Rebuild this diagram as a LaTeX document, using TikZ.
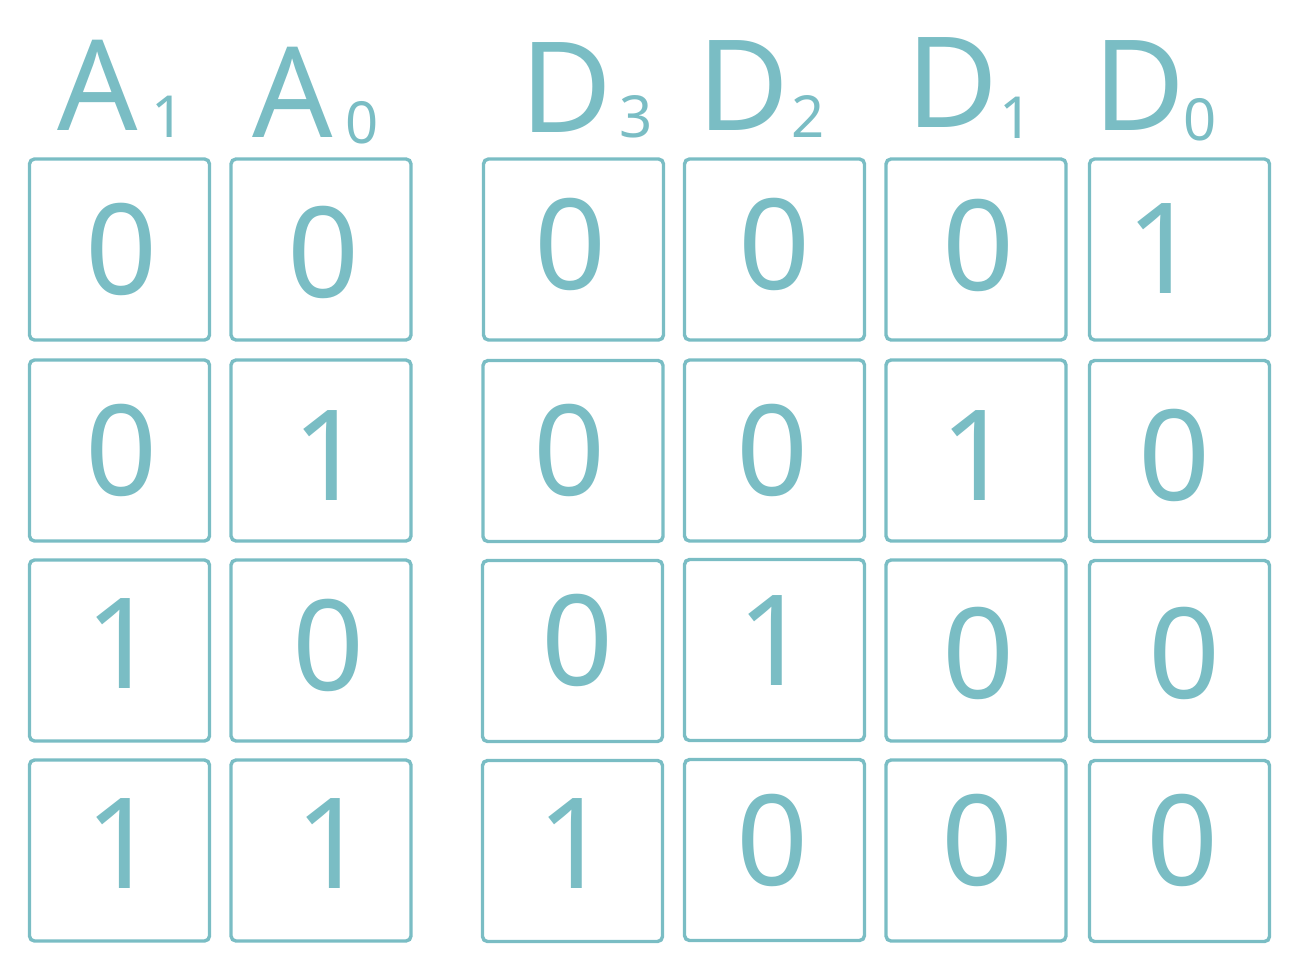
\documentclass[tikz,border=0pt]{standalone}
\usepackage{fontspec}
\setmainfont{Noto Sans}
\usepackage{tikz}

\definecolor{teal}{RGB}{122,189,196}
\tikzset{
  cell/.style={draw=teal, line width=1.7pt, rounded corners=2.5pt, minimum width=90pt, minimum height=90.5pt, inner sep=0pt},
  bit/.style={text=teal, inner sep=0pt, anchor=base, font=\fontsize{63}{63}\selectfont},
  head/.style={text=teal, inner sep=0pt, anchor=base west, font=\fontsize{63}{63}\selectfont},
  sub/.style={text=teal, inner sep=0pt, anchor=base west, font=\fontsize{29}{29}\selectfont}
}

\begin{document}
\begin{tikzpicture}[x=0.5pt,y=-0.5pt]
\useasboundingbox (0,0) rectangle (1294,964);

% column heads
\node[head] (A1) at (57,130) {A};
\node[sub] (A1s) at (151,137) {1};
\node[head] (A0) at (252,137) {A};
\node[sub] (A0s) at (345,143) {0};

\node[head] (D3) at (520,132) {D};
\node[sub] (D3s) at (619,137) {3};
\node[head] (D2) at (697,130) {D};
\node[sub] (D2s) at (791,137) {2};
\node[head] (D1) at (906,127) {D};
\node[sub] (D1s) at (999,138) {1};
\node[head] (D0) at (1093,130) {D};
\node[sub] (D0s) at (1183,140) {0};

% boxes
\node[cell] (b11) at (119.5,249.5) {};
\node[cell] (b12) at (321,249.5) {};
\node[cell] (b13) at (573.5,249.5) {};
\node[cell] (b14) at (774.5,249.5) {};
\node[cell] (b15) at (976,249.5) {};
\node[cell] (b16) at (1179.5,249.5) {};

\node[cell] (b21) at (119.5,450.5) {};
\node[cell] (b22) at (321,450.5) {};
\node[cell] (b23) at (573,451) {};
\node[cell] (b24) at (774.5,450.5) {};
\node[cell] (b25) at (976,450.5) {};
\node[cell] (b26) at (1179.5,451) {};

\node[cell] (b31) at (119.5,650.5) {};
\node[cell] (b32) at (321,650.5) {};
\node[cell] (b33) at (572.5,651) {};
\node[cell] (b34) at (774.5,650) {};
\node[cell] (b35) at (976,650.5) {};
\node[cell] (b36) at (1179.5,651) {};

\node[cell] (b41) at (119.5,850.5) {};
\node[cell] (b42) at (321,850.5) {};
\node[cell] (b43) at (572.5,851) {};
\node[cell] (b44) at (774.5,850) {};
\node[cell] (b45) at (976,850.5) {};
\node[cell] (b46) at (1179.5,851) {};

% bits
\node[bit] (n11) at (122,294) {0};
\node[bit] (n12) at (324,297) {0};
\node[bit] (n13) at (571,289) {0};
\node[bit] (n14) at (775,289) {0};
\node[bit] (n15) at (979,290) {0};
\node[bit] (n16) at (1163,293) {1};

\node[bit] (n21) at (122,495) {0};
\node[bit] (n22) at (329,500) {1};
\node[bit] (n23) at (570,495) {0};
\node[bit] (n24) at (773,495) {0};
\node[bit] (n25) at (977,500) {1};
\node[bit] (n26) at (1175,500) {0};

\node[bit] (n31) at (122,688) {1};
\node[bit] (n32) at (329,690) {0};
\node[bit] (n33) at (578,685) {0};
\node[bit] (n34) at (774,685) {1};
\node[bit] (n35) at (979,698) {0};
\node[bit] (n36) at (1185,698) {0};

\node[bit] (n41) at (122,888) {1};
\node[bit] (n42) at (332,888) {1};
\node[bit] (n43) at (574,888) {1};
\node[bit] (n44) at (773,885) {0};
\node[bit] (n45) at (978,885) {0};
\node[bit] (n46) at (1183,885) {0};
\end{tikzpicture}
\end{document}
